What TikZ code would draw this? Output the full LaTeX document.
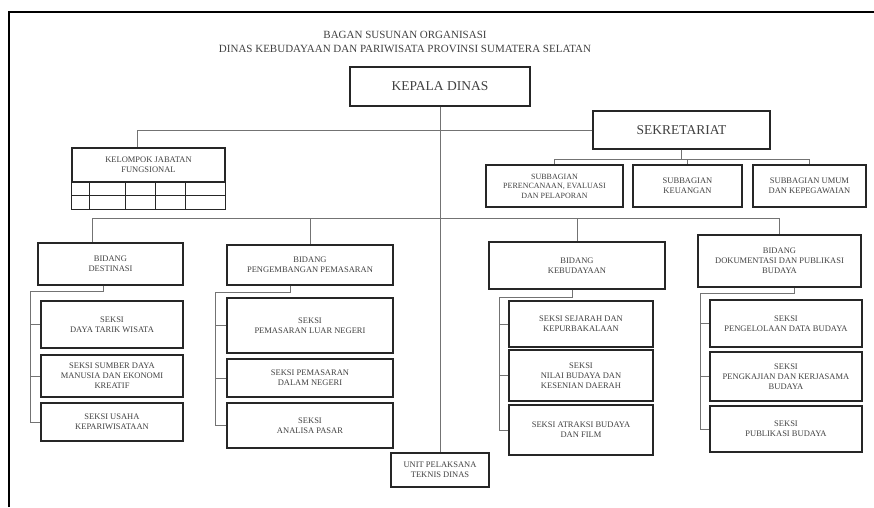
\documentclass[tikz,border=0pt]{standalone}
\usepackage{fontspec}
\setmainfont{Liberation Serif}
\usepackage{tikz}

\begin{document}
\begin{tikzpicture}[x=1pt,y=-1pt]
  \tikzset{box/.style = {draw=black!85,line width=1.3pt,align=center,inner sep=1pt,text=black!75,font=\fontsize{8.5}{10}\selectfont}}
  \tikzset{link/.style = {draw=black!55,line width=0.8pt}}
  \useasboundingbox (0,0) rectangle (874,507);
  \draw[line width=2.5pt] (9,507) -- (9,12) -- (874,12);

	\node[text=black!75,font=\fontsize{11}{13.5}\selectfont,align=center] (title) at (405,42) {BAGAN SUSUNAN ORGANISASI\\DINAS KEBUDAYAAN DAN PARIWISATA PROVINSI SUMATERA SELATAN};

	\node[box,font=\fontsize{13.5}{15}\selectfont,minimum width=180pt,minimum height=39pt] (kd) at (440,86.5) {KEPALA DINAS};
	\node[box,font=\fontsize{13.5}{15}\selectfont,minimum width=177pt,minimum height=38pt] (sek) at (681.5,130) {SEKRETARIAT};

	\node[box,font=\fontsize{8}{9.5}\selectfont,minimum width=137pt,minimum height=42pt] (sbp) at (554.5,186) {SUBBAGIAN\\PERENCANAAN, EVALUASI\\DAN PELAPORAN};
	\node[box,minimum width=109pt,minimum height=42pt] (sbk) at (687.5,186) {SUBBAGIAN\\KEUANGAN};
	\node[box,minimum width=113pt,minimum height=42pt] (sbu) at (809.5,186) {SUBBAGIAN UMUM\\DAN KEPEGAWAIAN};

	\node[box,minimum width=153pt,minimum height=34pt] (kjf) at (148.5,165) {KELOMPOK JABATAN\\FUNGSIONAL};
	\draw[draw=black!85,line width=1.3pt] (kjf.south west) rectangle ([yshift=-27pt]kjf.south east);
	\draw[draw=black!85,line width=1pt] ([yshift=-13pt]kjf.south west) -- ([yshift=-13pt]kjf.south east);
	\foreach \dx in {18,54,84,114}
	  \draw[draw=black!85,line width=1pt] ([xshift=\dx pt]kjf.south west) -- ++(0,27);

	% bidang
	\node[box,minimum width=145pt,minimum height=42pt] (bd) at (110.5,264) {BIDANG\\DESTINASI};
	\node[box,minimum width=166pt,minimum height=40pt] (bp) at (310,265) {BIDANG\\PENGEMBANGAN PEMASARAN};
	\node[box,minimum width=176pt,minimum height=47pt] (bk) at (577,265.5) {BIDANG\\KEBUDAYAAN};
	\node[box,minimum width=163pt,minimum height=52pt] (bo) at (779.5,261) {BIDANG\\DOKUMENTASI DAN PUBLIKASI\\BUDAYA};

	% seksi
	\node[box,minimum width=142pt,minimum height=47pt] (d1) at (112,324.5) {SEKSI\\DAYA TARIK WISATA};
	\node[box,minimum width=142pt,minimum height=42pt] (d2) at (112,376) {SEKSI SUMBER DAYA\\MANUSIA DAN EKONOMI\\KREATIF};
	\node[box,minimum width=142pt,minimum height=38pt] (d3) at (112,422) {SEKSI USAHA\\KEPARIWISATAAN};

	\node[box,minimum width=166pt,minimum height=55pt] (p1) at (310,325.5) {SEKSI\\PEMASARAN LUAR NEGERI};
	\node[box,minimum width=166pt,minimum height=38pt] (p2) at (310,378) {SEKSI PEMASARAN\\DALAM NEGERI};
	\node[box,minimum width=166pt,minimum height=45pt] (p3) at (310,425.5) {SEKSI\\ANALISA PASAR};

	\node[box,minimum width=144pt,minimum height=46pt] (k1) at (581,324) {SEKSI SEJARAH DAN\\KEPURBAKALAAN};
	\node[box,minimum width=144pt,minimum height=51pt] (k2) at (581,375.5) {SEKSI\\NILAI BUDAYA DAN\\KESENIAN DAERAH};
	\node[box,minimum width=144pt,minimum height=50pt] (k3) at (581,430) {SEKSI ATRAKSI BUDAYA\\DAN FILM};

	\node[box,minimum width=152pt,minimum height=47pt] (o1) at (786,323.5) {SEKSI\\PENGELOLAAN DATA BUDAYA};
	\node[box,minimum width=152pt,minimum height=49pt] (o2) at (786,376.5) {SEKSI\\PENGKAJIAN DAN KERJASAMA\\BUDAYA};
	\node[box,minimum width=152pt,minimum height=46pt] (o3) at (786,429) {SEKSI\\PUBLIKASI BUDAYA};

	\node[box,minimum width=98pt,minimum height=34pt] (upt) at (440,470) {UNIT PELAKSANA\\TEKNIS DINAS};

	% garis
	\coordinate (bus) at (440,218);
	\path[link] (kd.south) -- (upt.north);
	\path[link] (sek.west) -| ([xshift=-11pt]kjf.north);
	\path[link] (sek.south) -- ++(0,10) coordinate (sbus);
	\foreach \to in {sbp,sbk,sbu}
	  \path[link] (sbus) -| (\to.north);
	\path[link] (bus) -| ([xshift=-18pt]bd.north);
	\path[link] (bus) -| (bp.north);
	\path[link] (bus) -| (bk.north);
	\path[link] (bus) -| (bo.north);

	\path[link] ([xshift=-7pt]bd.south) -- ++(0,6) -| ([xshift=-10pt]d3.west) -- (d3.west);
	\path[link] ([xshift=-20pt]bp.south) -- ++(0,7) -| ([xshift=-11pt]p3.west) -- (p3.west);
	\path[link] ([xshift=-5pt]bk.south) -- ++(0,8) -| ([xshift=-9pt]k3.west) -- (k3.west);
	\path[link] ([xshift=15pt]bo.south) -- ++(0,6) -| ([xshift=-9pt]o3.west) -- (o3.west);
	\foreach \from/\dx in {d1/10,d2/10,p1/11,p2/11,k1/9,k2/9,o1/9,o2/9}
	  \path[link] ([xshift=-\dx pt]\from.west) -- (\from.west);
\end{tikzpicture}
\end{document}
